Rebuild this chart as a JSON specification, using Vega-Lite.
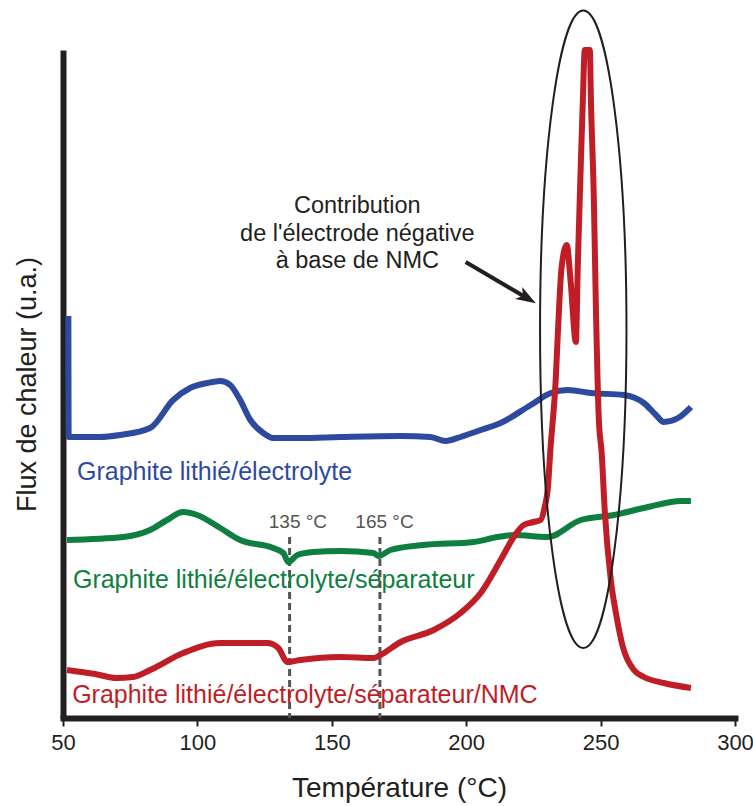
{
  "$schema": "https://vega.github.io/schema/vega-lite/v6.json",
  "width": 672,
  "height": 668,
  "autosize": "none",
  "padding": {"left": 63, "top": 50, "right": 18, "bottom": 88},
  "background": "white",
  "config": {
    "view": {"stroke": null},
    "font": "Liberation Sans",
    "axis": {"grid": false}
  },
  "datasets": {
    "curves": [
      {"series": "blue", "T": 52.0, "flux": 402},
      {"series": "blue", "T": 52.1, "flux": 281},
      {"series": "blue", "T": 63.8, "flux": 281},
      {"series": "blue", "T": 71.2, "flux": 283},
      {"series": "blue", "T": 82.4, "flux": 290},
      {"series": "blue", "T": 91.0, "flux": 318},
      {"series": "blue", "T": 97.3, "flux": 330},
      {"series": "blue", "T": 103.7, "flux": 335},
      {"series": "blue", "T": 108.5, "flux": 337},
      {"series": "blue", "T": 112.2, "flux": 333},
      {"series": "blue", "T": 115.9, "flux": 318},
      {"series": "blue", "T": 119.7, "flux": 298},
      {"series": "blue", "T": 124.5, "flux": 285},
      {"series": "blue", "T": 128.2, "flux": 280},
      {"series": "blue", "T": 138.3, "flux": 280},
      {"series": "blue", "T": 153.2, "flux": 281},
      {"series": "blue", "T": 175.6, "flux": 282},
      {"series": "blue", "T": 186.7, "flux": 281},
      {"series": "blue", "T": 192.3, "flux": 277},
      {"series": "blue", "T": 197.9, "flux": 281},
      {"series": "blue", "T": 205.4, "flux": 288},
      {"series": "blue", "T": 212.8, "flux": 295},
      {"series": "blue", "T": 224.0, "flux": 313},
      {"series": "blue", "T": 231.5, "flux": 325},
      {"series": "blue", "T": 237.8, "flux": 328},
      {"series": "blue", "T": 246.4, "flux": 325},
      {"series": "blue", "T": 258.6, "flux": 323},
      {"series": "blue", "T": 266.1, "flux": 315},
      {"series": "blue", "T": 270.6, "flux": 303},
      {"series": "blue", "T": 273.5, "flux": 296},
      {"series": "blue", "T": 278.8, "flux": 300},
      {"series": "blue", "T": 283.6, "flux": 311},
      {"series": "green", "T": 51.5, "flux": 178},
      {"series": "green", "T": 72.4, "flux": 181},
      {"series": "green", "T": 82.4, "flux": 188},
      {"series": "green", "T": 88.7, "flux": 198},
      {"series": "green", "T": 94.7, "flux": 206},
      {"series": "green", "T": 99.9, "flux": 203},
      {"series": "green", "T": 108.5, "flux": 190},
      {"series": "green", "T": 115.9, "flux": 178},
      {"series": "green", "T": 128.2, "flux": 170},
      {"series": "green", "T": 132.0, "flux": 165},
      {"series": "green", "T": 133.8, "flux": 156},
      {"series": "green", "T": 137.2, "flux": 163},
      {"series": "green", "T": 143.1, "flux": 166},
      {"series": "green", "T": 153.2, "flux": 167},
      {"series": "green", "T": 165.5, "flux": 165},
      {"series": "green", "T": 167.4, "flux": 162},
      {"series": "green", "T": 171.8, "flux": 168},
      {"series": "green", "T": 184.1, "flux": 173},
      {"series": "green", "T": 202.8, "flux": 176},
      {"series": "green", "T": 211.7, "flux": 181},
      {"series": "green", "T": 217.7, "flux": 183},
      {"series": "green", "T": 230.3, "flux": 181},
      {"series": "green", "T": 242.6, "flux": 198},
      {"series": "green", "T": 254.9, "flux": 203},
      {"series": "green", "T": 267.6, "flux": 211},
      {"series": "green", "T": 279.9, "flux": 217},
      {"series": "green", "T": 283.6, "flux": 217},
      {"series": "red", "T": 51.5, "flux": 48},
      {"series": "red", "T": 61.9, "flux": 44},
      {"series": "red", "T": 70.0, "flux": 40},
      {"series": "red", "T": 76.0, "flux": 41},
      {"series": "red", "T": 82.4, "flux": 48},
      {"series": "red", "T": 94.7, "flux": 65},
      {"series": "red", "T": 108.5, "flux": 75},
      {"series": "red", "T": 126.0, "flux": 75},
      {"series": "red", "T": 130.1, "flux": 70},
      {"series": "red", "T": 133.5, "flux": 56},
      {"series": "red", "T": 138.3, "flux": 58},
      {"series": "red", "T": 153.2, "flux": 61},
      {"series": "red", "T": 165.5, "flux": 60},
      {"series": "red", "T": 168.1, "flux": 63},
      {"series": "red", "T": 175.6, "flux": 76},
      {"series": "red", "T": 187.9, "flux": 88},
      {"series": "red", "T": 197.9, "flux": 105},
      {"series": "red", "T": 205.4, "flux": 125},
      {"series": "red", "T": 212.8, "flux": 158},
      {"series": "red", "T": 217.7, "flux": 181},
      {"series": "red", "T": 221.4, "flux": 193},
      {"series": "red", "T": 225.1, "flux": 196},
      {"series": "red", "T": 227.7, "flux": 198},
      {"series": "red", "T": 229.2, "flux": 211},
      {"series": "red", "T": 230.3, "flux": 228},
      {"series": "red", "T": 231.4, "flux": 271},
      {"series": "red", "T": 233.3, "flux": 338},
      {"series": "red", "T": 234.1, "flux": 385},
      {"series": "red", "T": 235.5, "flux": 451},
      {"series": "red", "T": 237.4, "flux": 473},
      {"series": "red", "T": 238.9, "flux": 435},
      {"series": "red", "T": 240.8, "flux": 376},
      {"series": "red", "T": 241.5, "flux": 451},
      {"series": "red", "T": 242.6, "flux": 551},
      {"series": "red", "T": 243.4, "flux": 618},
      {"series": "red", "T": 244.1, "flux": 668},
      {"series": "red", "T": 246.0, "flux": 668},
      {"series": "red", "T": 246.4, "flux": 618},
      {"series": "red", "T": 247.5, "flux": 518},
      {"series": "red", "T": 248.2, "flux": 418},
      {"series": "red", "T": 249.3, "flux": 301},
      {"series": "red", "T": 250.4, "flux": 265},
      {"series": "red", "T": 251.6, "flux": 205},
      {"series": "red", "T": 253.8, "flux": 138},
      {"series": "red", "T": 255.7, "flux": 105},
      {"series": "red", "T": 258.3, "flux": 71},
      {"series": "red", "T": 262.4, "flux": 48},
      {"series": "red", "T": 266.1, "flux": 41},
      {"series": "red", "T": 273.5, "flux": 35},
      {"series": "red", "T": 283.6, "flux": 30}
    ],
    "labels": [
      {"series": "blue", "label": "Graphite lithié/électrolyte", "T": 55.2, "flux": 238},
      {"series": "green", "label": "Graphite lithié/électrolyte/séparateur", "T": 53.7, "flux": 130},
      {"series": "red", "label": "Graphite lithié/électrolyte/séparateur/NMC", "T": 53.4, "flux": 15}
    ],
    "marks": [
      {"T": 134.3, "top": 181, "bottom": 0, "labelT": 137.4, "labelFlux": 190, "label": "135 °C"},
      {"T": 167.9, "top": 181, "bottom": 0, "labelT": 169.6, "labelFlux": 190, "label": "165 °C"}
    ],
    "note": [
      {"T": 159.5, "flux": 505, "text": "Contribution\nde l'électrode négative\nà base de NMC"}
    ],
    "arrow": [
      {"T": 199.8, "flux": 456, "T2": 222.7, "flux2": 419.8}
    ],
    "ellipse": [
      {"T": 243.55, "flux": 388.7}
    ]
  },
  "layer": [
    {
      "data": {"name": "marks"},
      "mark": {"type": "rule", "color": "#555555", "strokeWidth": 3, "strokeDash": [7, 4]},
      "encoding": {
        "x": {"field": "T", "type": "quantitative", "scale": {"domain": [50, 300], "nice": false}},
        "y": {"field": "top", "type": "quantitative", "scale": {"domain": [0, 668], "nice": false}},
        "y2": {"field": "bottom"}
      }
    },
    {
      "data": {"name": "curves"},
      "mark": {"type": "line", "strokeWidth": 6, "strokeJoin": "round", "strokeCap": "butt", "clip": false, "interpolate": "monotone"},
      "encoding": {
        "x": {
          "field": "T", "type": "quantitative",
          "scale": {"domain": [50, 300], "nice": false},
          "axis": {
            "values": [50, 100, 150, 200, 250, 300],
            "title": "Température (°C)",
            "titleFont": "Liberation Sans",
            "titleFontSize": 28,
            "titleFontWeight": "normal",
            "titleColor": "#231f20",
            "titlePadding": 21,
            "labelFont": "Liberation Sans",
            "labelFontSize": 22,
            "labelColor": "#231f20",
            "labelPadding": 6,
            "labelFlush": false,
            "domainColor": "#231f20",
            "domainWidth": 6,
            "domainCap": "square",
            "tickColor": "#231f20",
            "tickWidth": 2,
            "tickSize": 8
          }
        },
        "y": {
          "field": "flux", "type": "quantitative",
          "scale": {"domain": [0, 668], "nice": false},
          "axis": {
            "title": "Flux de chaleur (u.a.)",
            "titleFont": "Liberation Sans",
            "titleFontSize": 27,
            "titleFontWeight": "normal",
            "titleColor": "#231f20",
            "titlePadding": 22,
            "labels": false,
            "ticks": false,
            "domainColor": "#231f20",
            "domainWidth": 6
          }
        },
        "color": {
          "field": "series", "type": "nominal",
          "scale": {"domain": ["blue", "green", "red"], "range": ["#2e4a9e", "#0e7f40", "#c01e27"]},
          "legend": null
        },
        "detail": {"field": "series"}
      }
    },
    {
      "data": {"name": "marks"},
      "mark": {"type": "text", "align": "center", "baseline": "alphabetic", "fontSize": 19, "color": "#555555", "font": "Liberation Sans"},
      "encoding": {
        "x": {"field": "labelT", "type": "quantitative"},
        "y": {"field": "labelFlux", "type": "quantitative"},
        "text": {"field": "label"}
      }
    },
    {
      "data": {"name": "labels"},
      "mark": {"type": "text", "align": "left", "baseline": "alphabetic", "fontSize": 25, "font": "Liberation Sans"},
      "encoding": {
        "x": {"field": "T", "type": "quantitative"},
        "y": {"field": "flux", "type": "quantitative"},
        "text": {"field": "label"},
        "color": {"field": "series", "type": "nominal", "legend": null}
      }
    },
    {
      "data": {"name": "note"},
      "mark": {"type": "text", "align": "center", "baseline": "alphabetic", "fontSize": 23.5, "lineHeight": 27.5, "lineBreak": "\n", "color": "#231f20", "font": "Liberation Sans"},
      "encoding": {
        "x": {"field": "T", "type": "quantitative"},
        "y": {"field": "flux", "type": "quantitative"},
        "text": {"field": "text"}
      }
    },
    {
      "data": {"name": "arrow"},
      "mark": {"type": "rule", "color": "#231f20", "strokeWidth": 4},
      "encoding": {
        "x": {"field": "T", "type": "quantitative"},
        "y": {"field": "flux", "type": "quantitative"},
        "x2": {"field": "T2"},
        "y2": {"field": "flux2"}
      }
    },
    {
      "data": {"name": "arrow"},
      "mark": {"type": "point", "shape": "M 1,0 L -1,-0.7 L -0.5,0 L -1,0.7 Z", "size": 400, "angle": 30.7, "filled": true, "color": "#231f20", "opacity": 1},
      "encoding": {
        "x": {"field": "T2", "type": "quantitative"},
        "y": {"field": "flux2", "type": "quantitative"}
      }
    },
    {
      "data": {"name": "ellipse"},
      "mark": {"type": "point", "shape": "M 0,-1 C 0.0749,-1 0.1356,-0.5523 0.1356,0 C 0.1356,0.5523 0.0749,1 0,1 C -0.0749,1 -0.1356,0.5523 -0.1356,0 C -0.1356,-0.5523 -0.0749,-1 0,-1 Z", "size": 406279, "filled": false, "stroke": "#231f20", "strokeWidth": 2, "opacity": 1},
      "encoding": {
        "x": {"field": "T", "type": "quantitative"},
        "y": {"field": "flux", "type": "quantitative"}
      }
    }
  ]
}
